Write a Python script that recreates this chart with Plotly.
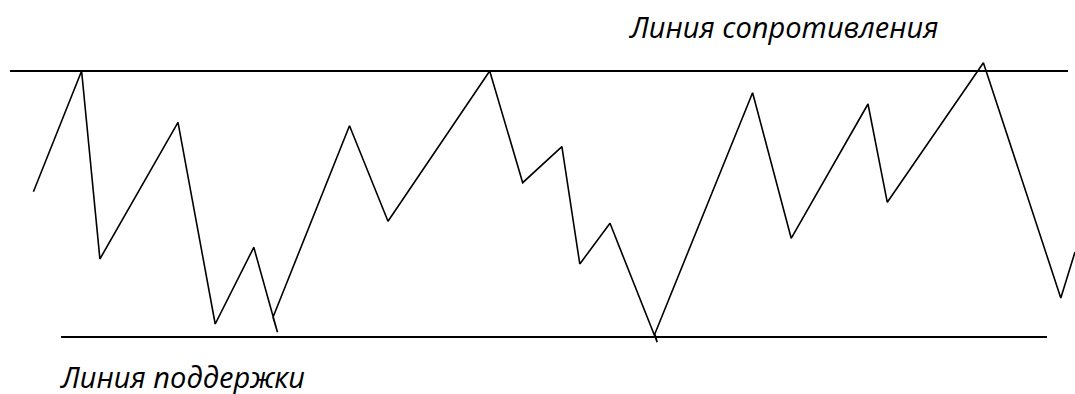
import plotly.graph_objects as go

# zigzag price path (x position, price level; price measured upward)
path_x = [33.4, 81.6, 99.9, 178, 215.2, 253.8, 277.5, 273, 349.5, 388, 489.7, 522.7,
          561.9, 579.8, 610, 657.2, 654.8, 752.6, 791.2, 868, 887.3, 983.4, 1060.8, 1075]
path_y = [191.7, 71, 259, 122.3, 324, 247.3, 332.3, 317.3, 125.7, 221.3, 71, 182.7,
          146.7, 264, 223.3, 342.3, 334, 92.7, 238.3, 104, 202.3, 62.7, 298, 252]

H = 394
price = [H - v for v in path_y]

resist_x = [10, 1068]
resist_level = H - 71
support_x = [61, 1047]
support_level = H - 337

label_resist = "Линия сопротивления"
label_support = "Линия поддержки"

fig = go.Figure()
fig.add_trace(go.Scatter(x=path_x, y=price, mode="lines",
                         line=dict(color="black", width=1.6), hoverinfo="skip"))
fig.add_trace(go.Scatter(x=resist_x, y=[resist_level] * 2, mode="lines",
                         line=dict(color="black", width=2), hoverinfo="skip"))
fig.add_trace(go.Scatter(x=support_x, y=[support_level] * 2, mode="lines",
                         line=dict(color="black", width=2), hoverinfo="skip"))

fnt = dict(family="Open Sans", size=29, color="black", style="italic")
fig.add_annotation(x=784, y=H - 26.5, text=label_resist, showarrow=False,
                   font=fnt, xanchor="center", yanchor="middle")
fig.add_annotation(x=182, y=H - 376, text=label_support, showarrow=False,
                   font=fnt, xanchor="center", yanchor="middle")

fig.update_layout(
    width=1075, height=394,
    margin=dict(l=0, r=0, t=0, b=0),
    paper_bgcolor="white", plot_bgcolor="white",
    showlegend=False,
    xaxis=dict(range=[0, 1075], visible=False, fixedrange=True),
    yaxis=dict(range=[0, H], visible=False, fixedrange=True),
)
fig.write_html("out.html", config={"displayModeBar": False},
               post_script="document.body.style.margin='0';document.body.style.overflow='hidden';")
